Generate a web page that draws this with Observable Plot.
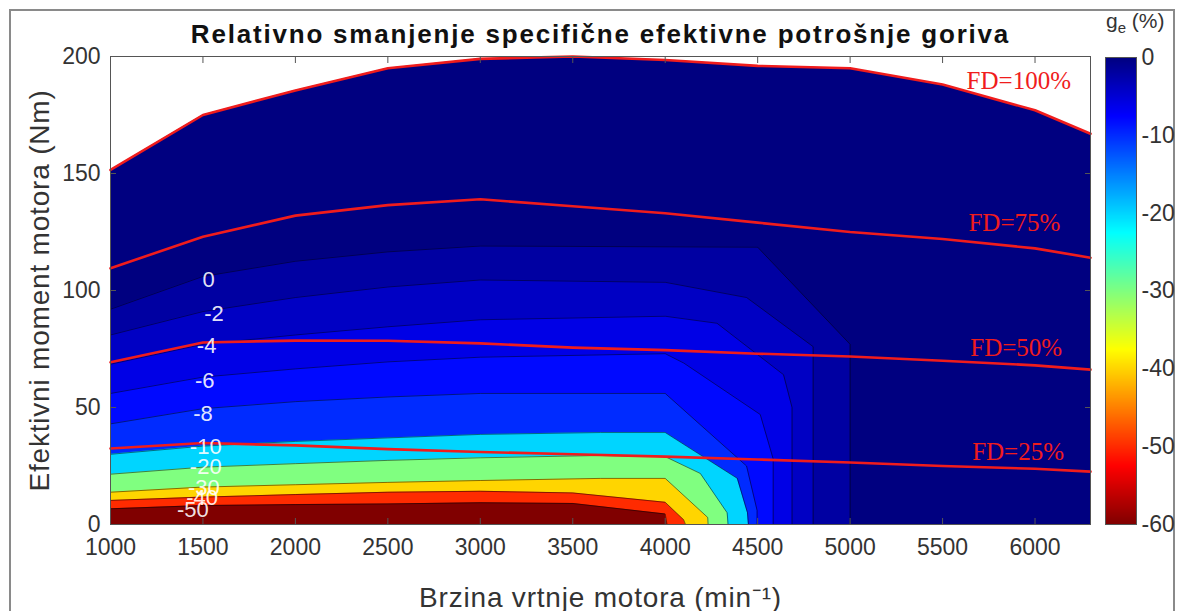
<!DOCTYPE html>
<html><head><meta charset="utf-8">
<script src="https://cdn.jsdelivr.net/npm/d3@7"></script>
<script src="https://cdn.jsdelivr.net/npm/@observablehq/plot@0.6"></script>
<style>
body{margin:0;background:#fff;font-family:"Liberation Sans",Arial,sans-serif;}
#wrap{position:relative;width:1178px;height:611px;overflow:hidden;background:#fff;}
#border{position:absolute;left:9px;top:9px;width:1166px;height:640px;border:2px solid #8a8a8a;box-sizing:border-box;}
#main{position:absolute;left:0;top:0;}
#cbar{position:absolute;left:1105px;top:0;}
#cbtitle{position:absolute;left:1106px;top:10px;font-size:21px;color:#333;line-height:1;}
#cbtitle sub{font-size:15px;}
</style></head><body>
<div id="wrap"><div id="border"></div><div id="main"></div><div id="cbar"></div><div id="cbtitle">g<sub>e</sub> (%)</div></div>
<script>
// ---- data ----
const title = "Relativno smanjenje specifične efektivne potrošnje goriva";
const xLabel = "Brzina vrtnje motora (min⁻¹)";
const yLabel = "Efektivni moment motora (Nm)";
const rpmTicks = [1000,1500,2000,2500,3000,3500,4000,4500,5000,5500,6000];
const nmTicks = [0,50,100,150,200];
const cbarTicks = [0,-10,-20,-30,-40,-50,-60];

const levels    = [0,-2,-4,-6,-8,-10,-20,-30,-40,-50];
const fillBelow = [-2,-4,-6,-8,-10,-20,-30,-40,-50,-60];

// contour lines (rpm, Nm)
const c0Rpm  = [1000,1500,2000,2500,3000,4500,5000,5000];
const c0Nm   = [92,106,112.5,116.5,119,118.5,77,0];
const c2Rpm  = [1000,1500,2000,2500,3000,4000,4440,4800,4800];
const c2Nm   = [81,91,97,101.5,104.5,103.5,97,76,0];
const c4Rpm  = [1000,1500,2000,2500,3000,4000,4280,4640,4686,4686];
const c4Nm   = [68.5,77,81,84.5,87.5,89,86,64,50,0];
const c6Rpm  = [1000,1500,2000,2500,3000,4000,4100,4514,4584,4584];
const c6Nm   = [56,63,66.5,69.5,71.5,73,69,47,28,0];
const c8Rpm  = [1000,1500,2000,2500,3000,4000,4440,4497,4497];
const c8Nm   = [43,49.5,52.5,54.5,56,56,25,6,0];
const c10Rpm = [1000,1500,2000,2500,3000,3650,4000,4390,4445,4450];
const c10Nm  = [30,33.5,35.5,37,38.5,39.3,39.3,19.7,5,0];
const c20Rpm = [1000,1500,2000,2500,3000,3650,4000,4190,4335,4340];
const c20Nm  = [21.5,24.5,26,27.4,28.5,29.5,29,21.8,5,0];
const c30Rpm = [1000,1500,2000,2500,3000,3650,4000,4230,4232];
const c30Nm  = [13.8,16,17,18,18.8,19.7,19.7,3,0];
const c40Rpm = [1000,1500,2000,2500,3000,3500,4000,4100,4110];
const c40Nm  = [10.3,11.7,12.8,13.8,14.2,13.5,9.5,2,0];
const c50Rpm = [1000,1500,2000,2500,3000,3500,4000,4010];
const c50Nm  = [6.7,8.1,8.5,8.8,9.3,9,4.5,0];

// contour label placement (rpm, Nm)
const labelRpm = [1530,1560,1520,1510,1500,1515,1515,1505,1495,1445];
const labelNm  = [104.7,90,76.5,61.5,47.4,33,24.4,15.8,11.5,6.4];

// full-load fractions (FD lines)
const fdNames = ["FD=100%","FD=75%","FD=50%","FD=25%"];
const fdRpm  = [1000,1500,2000,2500,3000,3500,4000,4500,5000,5500,6000,6300];
const fd100  = [151.5,175,185.5,195,199,200,198.5,196,195,188,177,167];
const fd75   = [109.5,123,132,136.5,139,136,133,129,125,122,118,114];
const fd50   = [69.3,77.8,78.6,78.5,77.4,75.6,74.5,73,71.8,70,68,66.2];
const fd25   = [32.5,34.8,33.8,32.2,31,30,29,27.8,26.5,25,23.8,22.6];
const fdLabelRpm = [5630,5640,5650,5660];
const fdLabelNm  = [189.5,129,75.6,30.8];

// ---- build tables ----
const contourSets = [[c0Rpm,c0Nm],[c2Rpm,c2Nm],[c4Rpm,c4Nm],[c6Rpm,c6Nm],[c8Rpm,c8Nm],
  [c10Rpm,c10Nm],[c20Rpm,c20Nm],[c30Rpm,c30Nm],[c40Rpm,c40Nm],[c50Rpm,c50Nm]];
const rows = contourSets.flatMap(([r,n],i)=> r.map((x,j)=>({level:levels[i], fill:fillBelow[i], rpm:x, nm:n[j]})));
const fdSeries = [fd100,fd75,fd50,fd25];
const fdRows = fdNames.flatMap((name,i)=> fdRpm.map((x,j)=>({name, rpm:x, nm:fdSeries[i][j]})));
const envelope = fdRpm.map((x,j)=>({rpm:x, nm:fd100[j]}));

const color = {type:"linear", domain:[-60,-52.5,-37.5,-22.5,-7.5,0],
  range:["#800000","#ff0000","#ffff00","#00ffff","#0000ff","#000080"], interpolate:"rgb"};
const font = "Liberation Sans, Arial, Helvetica, sans-serif";
const ink = "#333";

const main = Plot.plot({
  width:1178, height:611, marginLeft:110, marginRight:88, marginTop:56, marginBottom:87,
  style:{fontFamily:font, color:ink, background:"transparent", overflow:"visible"},
  x:{domain:[1000,6300]}, y:{domain:[0,200]}, color,
  marks:[
    Plot.areaY(envelope, {x:"rpm", y1:0, y2:"nm", fill:()=>0}),
    ...levels.map(L => Plot.areaY(rows.filter(d=>d.level===L), {x:"rpm", y1:0, y2:"nm", fill:"fill"})),
    Plot.line(rows, {x:"rpm", y:"nm", z:"level", stroke:"#000", strokeWidth:0.9, strokeOpacity:0.55}),
    Plot.line(fdRows, {x:"rpm", y:"nm", z:"name", stroke:"#f01c1c", strokeWidth:2.6}),
    Plot.text(levels, {x:(d,i)=>labelRpm[i], y:(d,i)=>labelNm[i], text:d=>String(d), fill:"#fff", fillOpacity:0.9, fontSize:22}),
    Plot.text(fdNames, {x:(d,i)=>fdLabelRpm[i], y:(d,i)=>fdLabelNm[i], text:d=>d, textAnchor:"start",
      fill:"#f01c1c", fontFamily:"Liberation Serif, Times New Roman, serif", fontSize:25}),
    Plot.frame({stroke:"#555", strokeWidth:1}),
    Plot.axisX(rpmTicks, {anchor:"bottom", tickSize:0, tickPadding:14, fontSize:23, tickFormat:d=>String(d), label:null}),
    Plot.axisX(rpmTicks, {anchor:"bottom", tickSize:-6, tickFormat:()=>"", label:null, stroke:"#555"}),
    Plot.axisX(rpmTicks, {anchor:"top", tickSize:-6, tickFormat:()=>"", label:null, stroke:"#555"}),
    Plot.axisY(nmTicks, {anchor:"left", tickSize:0, tickPadding:10, fontSize:23, tickFormat:d=>String(d), label:null}),
    Plot.axisY(nmTicks, {anchor:"left", tickSize:-6, tickFormat:()=>"", label:null, stroke:"#555"}),
    Plot.axisY(nmTicks, {anchor:"right", tickSize:-6, tickFormat:()=>"", label:null, stroke:"#555"}),
    Plot.text([yLabel], {frameAnchor:"left", dx:-70, rotate:-90, textAnchor:"middle", lineAnchor:"middle", fontSize:28, fill:ink}),
    Plot.text([xLabel], {frameAnchor:"bottom", dy:74, textAnchor:"middle", lineAnchor:"middle", fontSize:28, fill:ink}),
    Plot.text([title], {frameAnchor:"top", dy:-22, textAnchor:"middle", lineAnchor:"middle", fontSize:26, fontWeight:"bold", fill:"#111"})
  ]
});
// wider letter spacing, as in the reference rendering
d3.select(main).selectAll("text").filter(function(){ return this.textContent === title; }).style("letter-spacing","1.8px");
d3.select(main).selectAll("text").filter(function(){ return this.textContent === xLabel || this.textContent === yLabel; }).style("letter-spacing","0.8px");
document.getElementById("main").append(main);

const cbar = Plot.plot({
  width:73, height:611, marginLeft:0, marginRight:42, marginTop:57, marginBottom:87,
  style:{fontFamily:font, color:ink, background:"transparent", overflow:"visible"},
  x:{domain:[0,1], axis:null}, y:{domain:[-60,0]}, color,
  marks:[
    Plot.raster({x1:0, x2:1, y1:-60, y2:0, width:2, height:300, fill:(x,y)=>y}),
    Plot.frame({stroke:"#555", strokeWidth:1}),
    Plot.axisY(cbarTicks, {anchor:"right", tickSize:0, tickPadding:5, fontSize:23, tickFormat:d=>String(d), label:null})
  ]
});
document.getElementById("cbar").append(cbar);
</script>
</body></html>
